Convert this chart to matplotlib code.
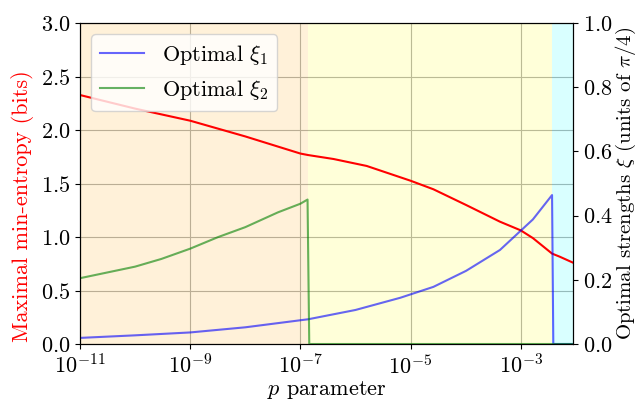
import matplotlib
matplotlib.use('Agg')
import matplotlib.pyplot as plt
from matplotlib.ticker import FixedLocator, NullLocator

plt.rcParams['font.family'] = 'serif'
plt.rcParams['font.serif'] = ['cmr10']
plt.rcParams['mathtext.fontset'] = 'cm'
plt.rcParams['axes.formatter.use_mathtext'] = True
plt.rcParams['font.size'] = 16

# p values and maximal min-entropy (bits)
p_entropy = [1e-11, 1e-10, 1e-9, 1e-8, 1e-7, 1.38e-7, 4.0e-7, 1.6e-6, 1e-5, 2.6e-5,
             1.02e-4, 4.2e-4, 1e-3, 1.66e-3, 3.7e-3, 5.1e-3, 8.9e-3]
entropy = [2.327, 2.20, 2.087, 1.94, 1.78, 1.766, 1.729, 1.664, 1.526, 1.446,
           1.299, 1.143, 1.062, 0.99, 0.845, 0.816, 0.76]

# optimal xi_1 (units of pi/4)
p_xi1 = [1e-11, 1e-10, 1e-9, 1e-8, 1e-7, 1.38e-7, 1e-6, 6.5e-6, 2.6e-5,
         1.02e-4, 4.2e-4, 1e-3, 1.66e-3, 3.7e-3, 3.9e-3, 8.9e-3]
xi1 = [0.019, 0.027, 0.036, 0.052, 0.074, 0.077, 0.106, 0.144, 0.178,
       0.228, 0.293, 0.353, 0.388, 0.464, 0.0, 0.0]

# optimal xi_2 (units of pi/4)
p_xi2 = [1e-11, 1e-10, 3e-10, 1e-9, 3.2e-9, 1e-8, 3.9e-8, 1e-7, 1.35e-7, 1.45e-7, 8.9e-3]
xi2 = [0.205, 0.241, 0.265, 0.297, 0.333, 0.364, 0.41, 0.437, 0.45, 0.0, 0.0]

# shaded regimes
region_edges = [1e-11, 1.38e-7, 3.7e-3, 8.9e-3]
region_colors = ['orange', 'yellow', 'cyan']

xticks = [1e-11, 1e-9, 1e-7, 1e-5, 1e-3]

fig = plt.figure(figsize=(6.42, 4.03), dpi=100)
ax1 = fig.add_axes([0.1246, 0.1464, 0.768, 0.7965])

for i, c in enumerate(region_colors):
    ax1.axvspan(region_edges[i], region_edges[i + 1], color=c, alpha=0.15, lw=0)

ax1.plot(p_entropy, entropy, color='red', lw=1.5)
ax1.set_xscale('log')
ax1.set_xlim(region_edges[0], region_edges[-1])
ax1.set_ylim(0, 3)
ax1.xaxis.set_major_locator(FixedLocator(xticks))
ax1.xaxis.set_minor_locator(NullLocator())
ax1.set_axisbelow(True)
ax1.grid(True)
ax1.set_xlabel('$p$ parameter', labelpad=1)
ax1.set_ylabel('Maximal min-entropy (bits)', color='red')
ax1.yaxis.set_label_coords(-0.093, 0.43)

ax2 = ax1.twinx()
ax2.plot(p_xi1, xi1, color='blue', alpha=0.6, lw=1.5, label=r'Optimal $\xi_1$')
ax2.plot(p_xi2, xi2, color='green', alpha=0.6, lw=1.5, label=r'Optimal $\xi_2$')
ax2.set_ylim(0, 1)
ax2.set_ylabel(r'Optimal strengths $\xi$ (units of $\pi/4$)', fontsize=15, labelpad=1)
ax2.legend(loc='upper left')

fig.savefig('out.png', dpi=100)
